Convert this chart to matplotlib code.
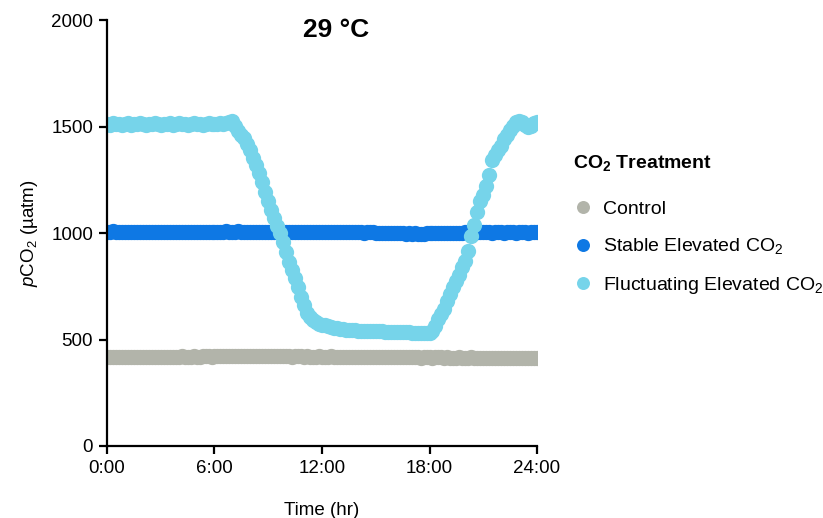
"""pCO2 over a 24 h cycle at 29 °C for three CO2 treatments (10-min logger readings)."""
import numpy as np
import matplotlib.pyplot as plt

plt.rcParams["font.family"] = ["Liberation Sans", "DejaVu Sans"]
plt.rcParams["mathtext.fontset"] = "custom"
plt.rcParams["mathtext.rm"] = "Liberation Sans"
plt.rcParams["mathtext.it"] = "Liberation Sans:italic"
plt.rcParams["mathtext.bf"] = "Liberation Sans:bold"

SAMPLE_MINUTES = 10

# one row per hour, six 10-min readings each, final value at 24:00
control = [
    418, 417, 419, 418, 416, 418,
    417, 419, 418, 417, 418, 419,
    418, 417, 418, 419, 418, 417,
    418, 419, 420, 419, 418, 419,
    420, 421, 420, 419, 420, 421,
    420, 419, 421, 422, 421, 420,
    421, 422, 421, 422, 423, 422,
    423, 424, 423, 422, 424, 425,
    424, 423, 424, 425, 424, 423,
    424, 423, 422, 423, 422, 421,
    422, 421, 420, 421, 422, 421,
    420, 421, 420, 419, 420, 421,
    420, 419, 420, 421, 420, 419,
    420, 419, 418, 419, 420, 419,
    418, 419, 420, 419, 418, 419,
    418, 417, 418, 419, 418, 417,
    418, 417, 416, 417, 418, 417,
    416, 417, 416, 415, 416, 417,
    416, 415, 416, 417, 416, 415,
    416, 415, 414, 415, 416, 415,
    414, 415, 416, 415, 414, 415,
    414, 415, 414, 413, 414, 415,
    414, 413, 414, 413, 412, 413,
    413, 412, 413, 412, 413, 412,
    412,
]

stable = [
    1007, 1006, 1008, 1007, 1006, 1007,
    1006, 1007, 1006, 1005, 1006, 1007,
    1006, 1005, 1006, 1007, 1006, 1005,
    1006, 1005, 1004, 1005, 1006, 1005,
    1004, 1005, 1006, 1005, 1004, 1005,
    1006, 1007, 1006, 1005, 1006, 1007,
    1006, 1005, 1006, 1007, 1008, 1007,
    1006, 1007, 1008, 1007, 1006, 1007,
    1006, 1005, 1006, 1005, 1004, 1005,
    1004, 1005, 1006, 1005, 1004, 1005,
    1004, 1003, 1004, 1005, 1004, 1003,
    1004, 1005, 1004, 1005, 1006, 1005,
    1006, 1005, 1006, 1007, 1006, 1005,
    1004, 1005, 1006, 1005, 1004, 1003,
    1004, 1003, 1002, 1003, 1004, 1003,
    1002, 1001, 1002, 1001, 1000, 1001,
    1000, 999, 1000, 999, 998, 999,
    998, 999, 998, 997, 998, 999,
    999, 1000, 999, 1000, 1001, 1000,
    1001, 1000, 1001, 1002, 1001, 1002,
    1003, 1002, 1003, 1002, 1003, 1004,
    1003, 1004, 1003, 1002, 1003, 1004,
    1003, 1002, 1003, 1004, 1003, 1002,
    1003, 1004, 1003, 1002, 1003, 1004,
    1003,
]

fluctuating = [
    1514, 1510, 1515, 1511, 1514, 1510,
    1513, 1515, 1510, 1514, 1511, 1515,
    1512, 1510, 1514, 1511, 1515, 1512,
    1510, 1514, 1511, 1515, 1510, 1513,
    1515, 1511, 1514, 1510, 1513, 1515,
    1511, 1514, 1510, 1513, 1515, 1511,
    1514, 1512, 1515, 1513, 1516, 1520,
    1528, 1505, 1480, 1462, 1448, 1420,
    1390, 1355, 1318, 1280, 1238, 1192,
    1150, 1110, 1070, 1035, 1000, 958,
    910, 865, 825, 789, 745, 700,
    660, 625, 605, 592, 582, 575,
    570, 566, 562, 558, 555, 552,
    550, 548, 546, 545, 544, 543,
    542, 541, 541, 540, 540, 539,
    539, 538, 538, 537, 537, 537,
    536, 536, 535, 535, 534, 534,
    533, 533, 532, 532, 531, 531,
    530, 538, 565, 595, 620, 645,
    680, 715, 745, 775, 805, 840,
    870, 915, 985, 1040, 1100, 1150,
    1180, 1220, 1275, 1345, 1365, 1390,
    1410, 1440, 1460, 1485, 1505, 1520,
    1525, 1522, 1510, 1500, 1505, 1518,
    1520,
]

series = [
    ("Control", control, "#b2b4aa"),
    (r"Stable Elevated CO$_2$", stable, "#0e78e4"),
    (r"Fluctuating Elevated CO$_2$", fluctuating, "#76d4ea"),
]

hours = np.arange(len(fluctuating)) * SAMPLE_MINUTES / 60.0

fig = plt.figure(figsize=(8.23, 5.18), dpi=100)
ax = fig.add_axes([0.130, 0.139, 0.5225, 0.822])

for label, values, color in series:
    ax.plot(hours, values, linestyle="none", marker="o", markersize=11,
            markerfacecolor=color, markeredgecolor="none", label=label)

ax.set_xlim(0, 24)
ax.set_ylim(0, 2000)
ax.set_xticks([0, 6, 12, 18, 24])
ax.set_xticklabels(["0:00", "6:00", "12:00", "18:00", "24:00"])
ax.set_yticks([0, 500, 1000, 1500, 2000])

for side in ("top", "right"):
    ax.spines[side].set_visible(False)
for side in ("left", "bottom"):
    ax.spines[side].set_linewidth(1.6)
ax.tick_params(width=1.6, length=6, labelsize=13.5, pad=4)

ax.set_xlabel("Time (hr)", fontsize=13.5, labelpad=18)
ax.set_ylabel("$p$CO$_2$ (µatm)", fontsize=13.5, labelpad=8)

fig.text(336 / 823, 1 - 30 / 518, "29 °C", fontsize=19, fontweight="bold",
         ha="center", va="center")

legend = ax.legend(loc="upper left", bbox_to_anchor=(1.084, 0.688), frameon=False,
                   borderpad=0, borderaxespad=0, fontsize=14, markerscale=0.85,
                   handlelength=1.0, handletextpad=0.55, labelspacing=0.96,
                   title=r"CO$_\mathbf{2}$ Treatment", alignment="left",
                   title_fontproperties={"weight": "bold", "size": 14})
# a little more room between the legend title and the first entry
legend._legend_box.sep = 19.5

fig.savefig("out.png", dpi=100)
